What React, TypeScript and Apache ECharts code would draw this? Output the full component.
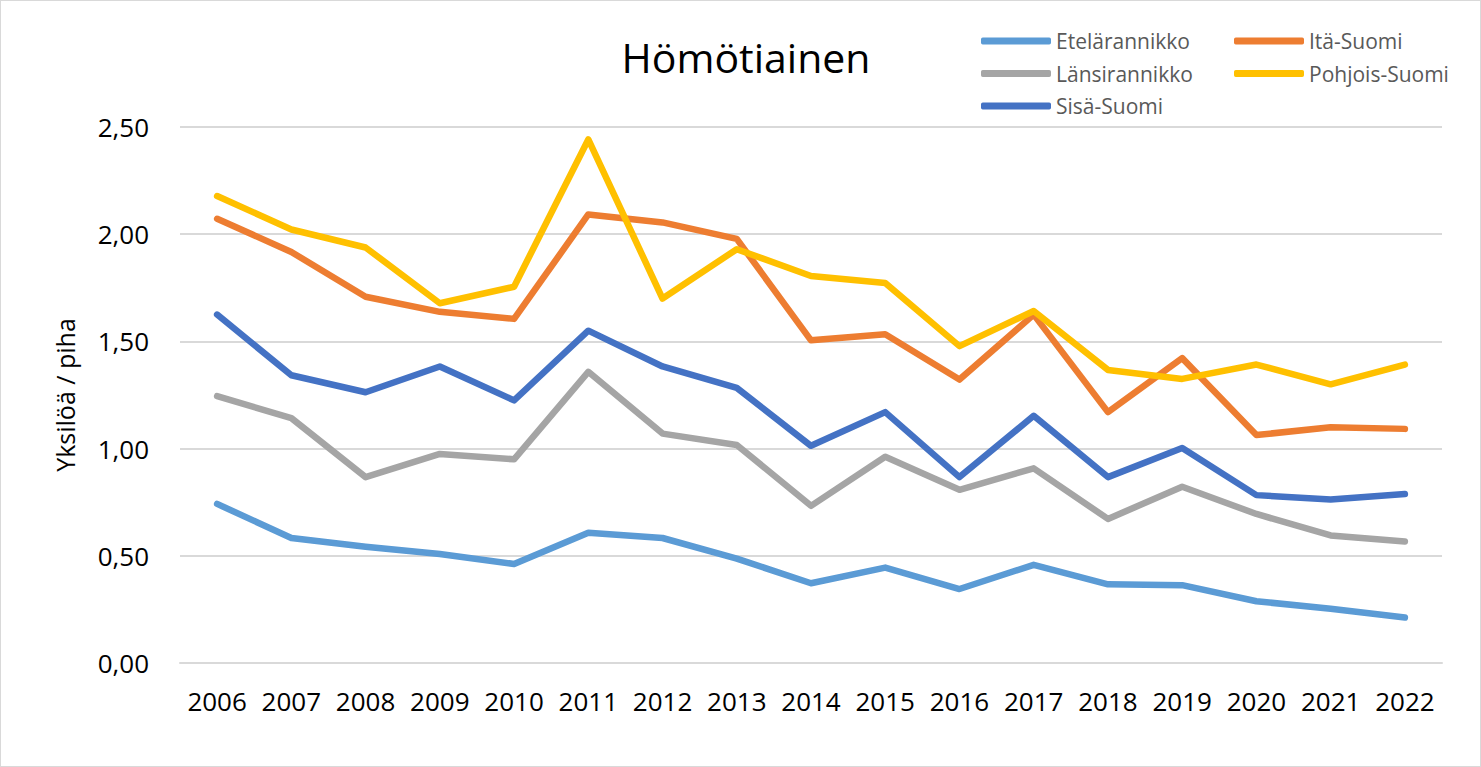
import React, { useEffect, useRef } from "react";
import * as echarts from "echarts";

const years = ["2006","2007","2008","2009","2010","2011","2012","2013","2014","2015","2016","2017","2018","2019","2020","2021","2022"];
const etelarannikko = [0.742,0.583,0.542,0.508,0.462,0.608,0.583,0.487,0.372,0.445,0.345,0.458,0.367,0.363,0.288,0.253,0.212];
const itaSuomi = [2.072,1.917,1.708,1.638,1.605,2.092,2.055,1.978,1.505,1.533,1.322,1.625,1.17,1.422,1.063,1.10,1.092];
const lansirannikko = [1.245,1.142,0.867,0.975,0.95,1.358,1.07,1.017,0.733,0.962,0.808,0.908,0.672,0.822,0.695,0.595,0.567];
const pohjoisSuomi = [2.178,2.022,1.938,1.678,1.755,2.442,1.70,1.93,1.805,1.772,1.478,1.642,1.367,1.325,1.392,1.30,1.392];
const sisaSuomi = [1.625,1.342,1.263,1.383,1.225,1.55,1.383,1.283,1.013,1.17,0.867,1.153,0.867,1.003,0.783,0.763,0.788];

const seriesDefs = [
  { name: "Etelärannikko", data: etelarannikko, color: "#5B9BD5" },
  { name: "Itä-Suomi", data: itaSuomi, color: "#ED7D31" },
  { name: "Länsirannikko", data: lansirannikko, color: "#A5A5A5" },
  { name: "Pohjois-Suomi", data: pohjoisSuomi, color: "#FFC000" },
  { name: "Sisä-Suomi", data: sisaSuomi, color: "#4472C4" },
];

const FONT = "'Open Sans', 'Noto Sans', sans-serif";

export default function App() {
  const ref = useRef<HTMLDivElement>(null);
  useEffect(() => {
    if (!ref.current) return;
    const chart = echarts.init(ref.current, null, { renderer: "svg" });
    const legendCommon = {
      orient: "vertical" as const,
      icon: "roundRect",
      itemWidth: 70,
      itemHeight: 7,
      itemGap: 10.5,
      itemStyle: { borderWidth: 0 },
      textStyle: { fontFamily: FONT, fontSize: 21, color: "#595959", lineHeight: 22 },
    };
    chart.setOption({
      animation: false,
      backgroundColor: "#ffffff",
      title: {
        text: "Hömötiainen",
        left: 740,
        top: 30,
        textAlign: "center",
        textStyle: { fontFamily: FONT, fontSize: 41, fontWeight: "normal", color: "#000000" },
      },
      legend: [
        { ...legendCommon, left: 975, top: 24, data: ["Etelärannikko", "Länsirannikko", "Sisä-Suomi"] },
        { ...legendCommon, left: 1228, top: 24, data: ["Itä-Suomi", "Pohjois-Suomi"] },
      ],
      grid: { left: 179, right: 38, top: 126, bottom: 103 },
      xAxis: {
        type: "category",
        data: years,
        boundaryGap: true,
        axisLine: { show: true, lineStyle: { color: "#d9d9d9", width: 2 } },
        axisTick: { show: false },
        axisLabel: { interval: 0, fontFamily: FONT, fontSize: 26, color: "#000000", margin: 25 },
      },
      yAxis: {
        type: "value",
        min: 0,
        max: 2.5,
        interval: 0.5,
        name: "Yksilöä / piha",
        nameLocation: "middle",
        nameGap: 103,
        nameTextStyle: { fontFamily: FONT, fontSize: 25, color: "#000000" },
        axisLine: { show: false },
        axisTick: { show: false },
        splitLine: { lineStyle: { color: "#d9d9d9", width: 2 } },
        axisLabel: {
          fontFamily: FONT,
          fontSize: 26,
          color: "#000000",
          margin: 31,
          formatter: (v: number) => v.toFixed(2).replace(".", ","),
        },
      },
      series: seriesDefs.map((s) => ({
        name: s.name,
        type: "line",
        data: s.data,
        symbol: "none",
        color: s.color,
        lineStyle: { width: 6.5, color: s.color, cap: "round", join: "round" },
      })),
    });
    return () => chart.dispose();
  }, []);
  return (
    <div
      ref={ref}
      style={{
        position: "fixed",
        left: 0,
        top: 0,
        width: 1481,
        height: 767,
        boxSizing: "border-box",
        border: "1px solid #d9d9d9",
        background: "#fff",
      }}
    />
  );
}
